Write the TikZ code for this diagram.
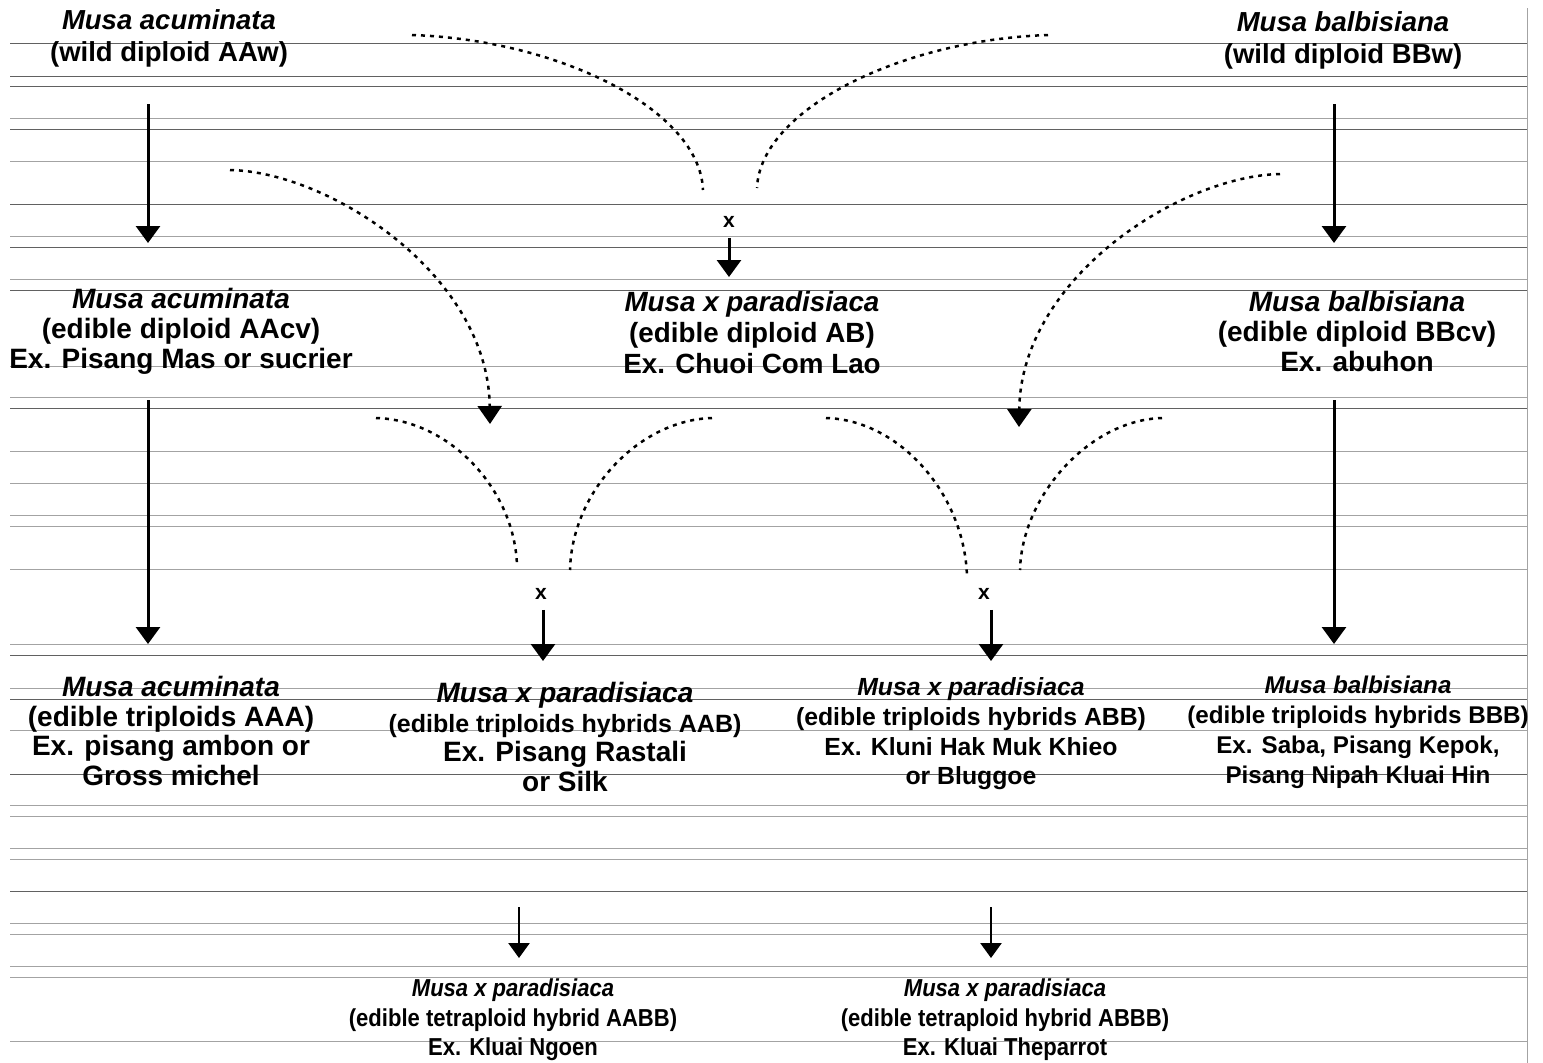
\documentclass[tikz,border=0pt]{standalone}
\usepackage{fontspec}
\setmainfont{Liberation Sans}
\newfontfamily\narrowsans[FakeStretch=0.9]{Liberation Sans}
\usetikzlibrary{arrows.meta}
\definecolor{gridA}{gray}{0.38}
\definecolor{gridB}{gray}{0.64}
\newcommand{\fsz}[2]{\fontsize{#1}{#2}\selectfont}
\tikzset{
  blk/.style={align=center, inner sep=0pt},
  arr/.style={line width=3pt, -{Triangle[width=24pt,length=17pt]}},
  sarr/.style={line width=2.6pt, -{Triangle[width=21pt,length=15pt]}},
  dotc/.style={line width=2.5pt, dash pattern=on 4pt off 5pt},
  dotarr/.style={dotc, -{Triangle[width=24pt,length=18pt]}},
  xmark/.style={inner sep=0pt, font=\bfseries\fsz{21}{21}},
  gA/.style={gridA, line width=1pt},
  gB/.style={gridB, line width=1pt}
}
\begin{document}
\begin{tikzpicture}[x=1pt,y=-1pt]
\useasboundingbox (0,0) rectangle (1543,1063);
\fill[white] (0,0) rectangle (1543,1063);
% background ruled lines
\foreach \yy in {43,76,86,129,204,247,290,408,655,699,774,891}
  \draw[gA] (10,\yy) -- (1527,\yy);
\foreach \yy in {118,161,236,279,366,397,451,483,515,526,569,644,688,730,805,816,848,859,923,934,966,977,1041}
  \draw[gB] (10,\yy) -- (1527,\yy);
\draw[gB] (1527,8) -- (1527,1063);

% text blocks
\node[blk, font=\bfseries\fsz{27.5}{32}] (wA) at (169,38)
  {\textit{Musa acuminata}\\(wild diploid AAw)};
\node[blk, font=\bfseries\fsz{27.5}{32}] (wB) at (1343,40)
  {\textit{Musa balbisiana}\\(wild diploid BBw)};
\node[blk, font=\bfseries\fsz{28}{30}] (eA) at (181,331)
  {\textit{Musa acuminata}\\(edible diploid AAcv)\\Ex. Pisang Mas or sucrier};
\node[blk, font=\bfseries\fsz{27.8}{31}] (eAB) at (752,333)
  {\textit{Musa x paradisiaca}\\(edible diploid AB)\\Ex. Chuoi Com Lao};
\node[blk, font=\bfseries\fsz{28}{30}] (eB) at (1357,331)
  {\textit{Musa balbisiana}\\(edible diploid BBcv)\\Ex. abuhon};
\node[blk, font=\bfseries\fsz{28}{29.7}] (tAAA) at (171,731)
  {\textit{Musa acuminata}\\(edible triploids AAA)\\Ex. pisang ambon or\\Gross michel};
\node[blk, font=\bfseries\fsz{28}{29.7}] (tAAB) at (565,737)
  {\textit{Musa x paradisiaca}\\{\fsz{25}{29.7}(edible triploids hybrids AAB)}\\Ex. Pisang Rastali\\or Silk};
\node[blk, font=\bfseries\fsz{24.8}{29.7}] (tABB) at (971,734)
  {\textit{Musa x paradisiaca}\\(edible triploids hybrids ABB)\\Ex. Kluni Hak Muk Khieo\\or Bluggoe};
\node[blk, font=\bfseries\fsz{24.2}{30}] (tBBB) at (1358,732)
  {\textit{Musa balbisiana}\\(edible triploids hybrids BBB)\\Ex. Saba, Pisang Kepok,\\Pisang Nipah Kluai Hin};
\node[blk, font=\narrowsans\bfseries\fsz{24.5}{29.5}] (qAABB) at (513,1020)
  {\textit{Musa x paradisiaca}\\(edible tetraploid hybrid AABB)\\Ex. Kluai Ngoen};
\node[blk, font=\narrowsans\bfseries\fsz{24.5}{29.5}] (qABBB) at (1005,1020)
  {\textit{Musa x paradisiaca}\\(edible tetraploid hybrid ABBB)\\Ex. Kluai Theparrot};

% cross marks
\node[xmark] (x1) at (729,222) {x};
\node[xmark] (x2) at (541,594) {x};
\node[xmark] (x3) at (984,594) {x};

% straight arrows
\coordinate (a1s) at (148,104);  \coordinate (a1e) at (148,243);
\coordinate (a2s) at (1334,104); \coordinate (a2e) at (1334,243);
\coordinate (a3s) at (148,400);  \coordinate (a3e) at (148,644);
\coordinate (a4s) at (1334,400); \coordinate (a4e) at (1334,644);
\coordinate (c1e) at (729,277);
\coordinate (c2e) at (543,661);
\coordinate (c3e) at (991,661);
\coordinate (b1s) at (519,907);  \coordinate (b1e) at (519,958);
\coordinate (b2s) at (991,907);  \coordinate (b2e) at (991,958);
\draw[arr] (a1s) -- (a1e);
\draw[arr] (a2s) -- (a2e);
\draw[arr] (a3s) -- (a3e);
\draw[arr] (a4s) -- (a4e);
\draw[arr, shorten <=10pt] (x1.south -| c1e) -- (c1e);
\draw[arr, shorten <=10pt] (x2.south -| c2e) -- (c2e);
\draw[arr, shorten <=10pt] (x3.south -| c3e) -- (c3e);
\draw[sarr] (b1s) -- (b1e);
\draw[sarr] (b2s) -- (b2e);

% dotted crossing curves (top)
\coordinate (t1a) at (412,35);   \coordinate (t1b) at (703,190);
\coordinate (t2a) at (1048,35);  \coordinate (t2b) at (757,188);
\draw[dotc] (t1a) .. controls (560,40) and (700,110) .. (t1b);
\draw[dotc] (t2a) .. controls (900,40) and (760,110) .. (t2b);

% long dotted arrows
\coordinate (l1a) at (230,170);  \coordinate (l1b) at (490,424);
\coordinate (l2a) at (1280,174); \coordinate (l2b) at (1019,427);
\draw[dotarr] (l1a) .. controls (330,172) and (488,275) .. (l1b);
\draw[dotarr] (l2a) .. controls (1180,176) and (1021,278) .. (l2b);

% dotted crossing curves (middle)
\coordinate (m1a) at (376,418);  \coordinate (m1b) at (517,566);
\coordinate (m2a) at (712,418);  \coordinate (m2b) at (570,570);
\coordinate (m3a) at (826,418);  \coordinate (m3b) at (967,577);
\coordinate (m4a) at (1162,418); \coordinate (m4b) at (1020,570);
\draw[dotc] (m1a) .. controls (450,420) and (515,490) .. (m1b);
\draw[dotc] (m2a) .. controls (640,420) and (572,490) .. (m2b);
\draw[dotc] (m3a) .. controls (900,420) and (965,495) .. (m3b);
\draw[dotc] (m4a) .. controls (1090,420) and (1022,495) .. (m4b);
\end{tikzpicture}
\end{document}
